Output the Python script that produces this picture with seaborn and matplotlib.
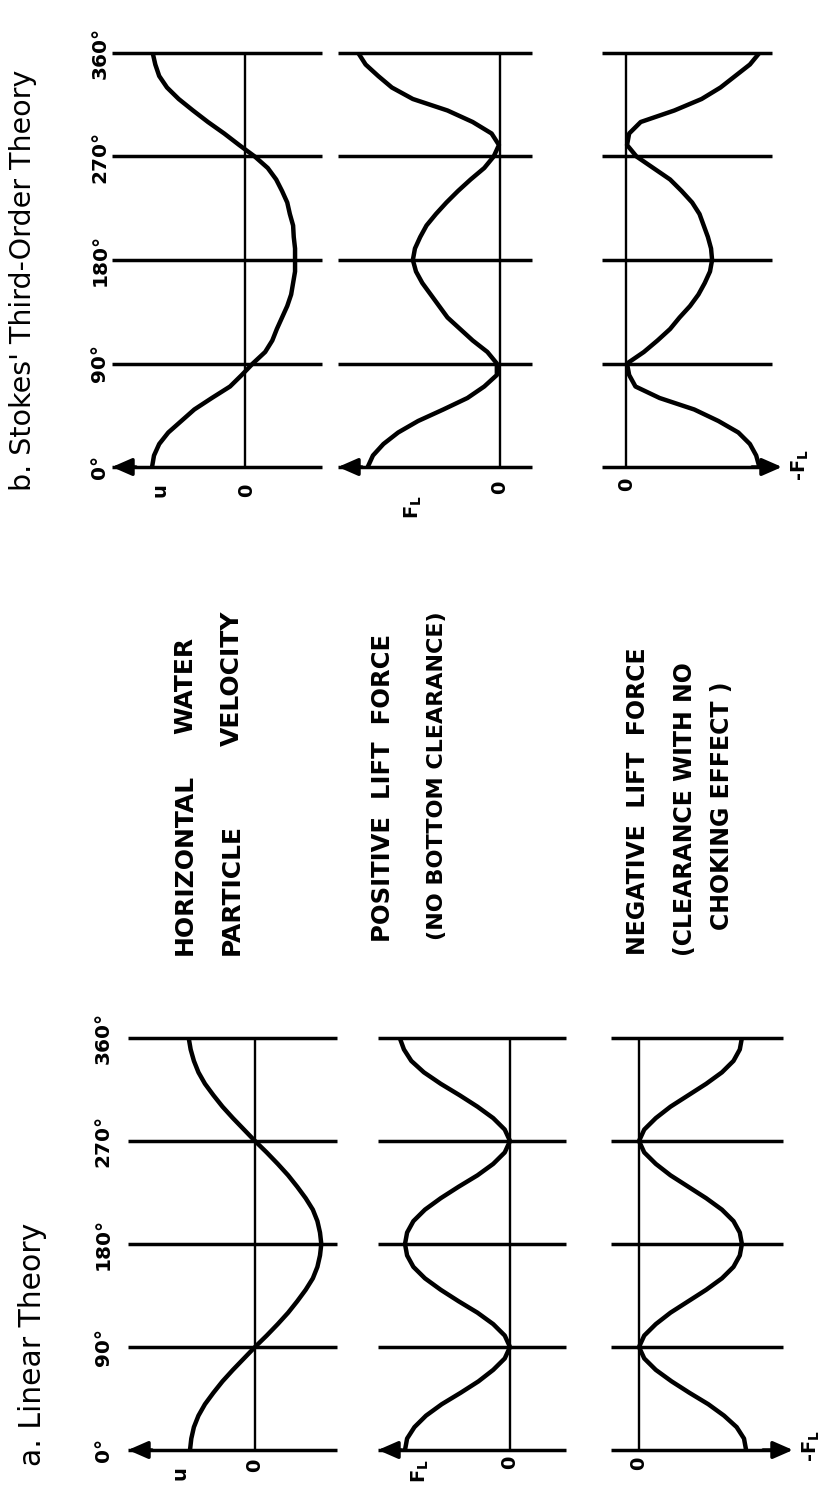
import matplotlib
matplotlib.use("Agg")
import matplotlib.pyplot as plt
from matplotlib.transforms import offset_copy
import seaborn as sns

sns.set_style("white")
plt.rcParams["font.family"] = ["DejaVu Sans"]
plt.rcParams["text.color"] = "black"
plt.rcParams["ytick.color"] = "black"
plt.rcParams["ytick.labelcolor"] = "black"

# phase angle (degrees) along the wave period
phase_deg = [0, 10, 20, 30, 40, 50, 60, 70, 80, 90,
             100, 110, 120, 130, 140, 150, 160, 170, 180,
             190, 200, 210, 220, 230, 240, 250, 260, 270,
             280, 290, 300, 310, 320, 330, 340, 350, 360]
tick_deg = [0, 90, 180, 270, 360]
tick_labels = ["0°", "90°", "180°", "270°", "360°"]

# a. Linear theory (u in units of the linear amplitude, lift in units of linear peak)
linear_u = [1.00, 0.98, 0.94, 0.87, 0.77, 0.64, 0.50, 0.34, 0.17, 0.00,
            -0.18, -0.35, -0.51, -0.65, -0.78, -0.89, -0.96, -1.00, -1.02,
            -1.00, -0.96, -0.89, -0.78, -0.65, -0.51, -0.35, -0.18, 0.00,
            0.17, 0.34, 0.50, 0.64, 0.77, 0.87, 0.94, 0.99, 1.02]
linear_lift = [1.00, 0.98, 0.91, 0.80, 0.65, 0.47, 0.30, 0.16, 0.05, 0.00,
               0.05, 0.16, 0.31, 0.49, 0.66, 0.81, 0.92, 0.98, 1.00,
               0.98, 0.92, 0.81, 0.66, 0.49, 0.31, 0.16, 0.05, 0.00,
               0.05, 0.16, 0.31, 0.48, 0.66, 0.82, 0.94, 1.01, 1.05]
linear_neg_lift = [1.02, 1.00, 0.93, 0.81, 0.66, 0.48, 0.31, 0.16, 0.05, 0.00,
                   0.05, 0.16, 0.30, 0.47, 0.64, 0.79, 0.90, 0.96, 0.98,
                   0.96, 0.90, 0.79, 0.64, 0.47, 0.30, 0.16, 0.05, 0.00,
                   0.05, 0.16, 0.30, 0.47, 0.64, 0.79, 0.90, 0.96, 0.98]

# b. Stokes' third-order theory (same units)
stokes_u = [1.43, 1.40, 1.32, 1.18, 0.98, 0.78, 0.51, 0.23, 0.05, -0.12,
            -0.31, -0.42, -0.49, -0.57, -0.65, -0.71, -0.74, -0.77, -0.77,
            -0.77, -0.75, -0.74, -0.69, -0.65, -0.57, -0.48, -0.35, -0.15,
            0.09, 0.32, 0.57, 0.80, 1.02, 1.20, 1.32, 1.38, 1.42]
stokes_lift = [1.26, 1.21, 1.11, 0.97, 0.78, 0.54, 0.31, 0.15, 0.03, 0.03,
               0.12, 0.26, 0.38, 0.50, 0.58, 0.66, 0.74, 0.80, 0.83,
               0.81, 0.76, 0.70, 0.61, 0.51, 0.40, 0.28, 0.15, 0.06,
               0.01, 0.08, 0.26, 0.50, 0.83, 1.03, 1.16, 1.28, 1.35]
stokes_neg_lift = [1.27, 1.24, 1.18, 1.07, 0.88, 0.65, 0.32, 0.09, 0.03, 0.01,
                   0.17, 0.30, 0.42, 0.51, 0.61, 0.69, 0.75, 0.80, 0.82,
                   0.81, 0.78, 0.74, 0.70, 0.63, 0.53, 0.42, 0.26, 0.10,
                   0.01, 0.03, 0.14, 0.46, 0.72, 0.90, 1.04, 1.18, 1.27]

# layout, in pixels of the final (rotated) page
W, H = 836, 1493
U_PX, LIFT_PX = 65, 105

fig = plt.figure(figsize=(W / 100, H / 100), dpi=100)
fig.patch.set_facecolor("white")


def panel(values, x0, x1, zero, y_top, y_bot, scale, flip, arrow_right=False,
          labels=False, pad=4):
    ax = fig.add_axes([x0 / W, 1 - y_bot / H, (x1 - x0) / W, (y_bot - y_top) / H])
    ax.set_facecolor("none")
    for t in tick_deg:
        ax.axhline(t, color="black", lw=2.5, clip_on=False, solid_capstyle="butt")
    ax.axvline(0, color="black", lw=1.7)
    sns.lineplot(x=values, y=phase_deg, sort=False, estimator=None, color="black",
                 lw=3.2, ax=ax, solid_capstyle="round", solid_joinstyle="round")
    if flip:
        ax.set_xlim((zero - x0) / scale, (zero - x1) / scale)
    else:
        ax.set_xlim((x0 - zero) / scale, (x1 - zero) / scale)
    ax.set_ylim(0, 360)
    ax.set_xticks([])
    if labels:
        ax.set_yticks(tick_deg, tick_labels, rotation=90, va="center",
                      fontsize=14.5, fontweight="bold", color="black")
        ax.tick_params(axis="y", length=0, pad=pad)
    else:
        ax.set_yticks([])
    ax.set_xlabel("")
    ax.set_ylabel("")
    sns.despine(ax=ax, left=True, bottom=True)
    head = dict(arrowstyle="-|>,head_length=0.8,head_width=0.35", mutation_scale=15,
                color="black", lw=2.5, shrinkA=0, shrinkB=0)
    if arrow_right:
        tip = offset_copy(ax.transAxes, fig=fig, x=10, y=0, units="dots")
        ax.annotate("", xy=(1, 0), xycoords=tip, xytext=(-30, 0),
                    textcoords="offset pixels", arrowprops=head)
    else:
        ax.annotate("", xy=(0, 0), xycoords="axes fraction", xytext=(24, 0),
                    textcoords="offset pixels", arrowprops=head)
    return ax


# b. Stokes' third-order theory (top of page)
panel(stokes_u, 112, 322, 245, 53, 467, U_PX, True, labels=True, pad=2)
panel(stokes_lift, 338, 532, 500, 53, 467, LIFT_PX, True)
panel(stokes_neg_lift, 602, 772, 626, 53, 467, LIFT_PX, False, arrow_right=True)

# a. Linear theory (bottom of page)
panel(linear_u, 128, 337, 255, 1038, 1450, U_PX, True, labels=True, pad=11)
panel(linear_lift, 378, 566, 510, 1038, 1450, LIFT_PX, True)
panel(linear_neg_lift, 611, 783, 639, 1038, 1450, LIFT_PX, False, arrow_right=True)


def label(x, y, s, size=14, weight="bold", va="center"):
    fig.text(x / W, 1 - y / H, s, rotation=90, ha="center", va=va,
             fontsize=size, fontweight=weight, color="black")


label(23, 280, "b. Stokes' Third-Order Theory", size=20.5, weight="normal")
label(33, 1344, "a. Linear Theory", size=21.5, weight="normal")

# axis names below the 0° lines
label(160, 490, "u")
label(247, 490, "0")
label(413, 507, r"F$_\mathregular{L}$")
label(500, 487, "0")
label(627, 484, "0")
label(800, 465, r"-F$_\mathregular{L}$")
label(180, 1473, "u")
label(255, 1465, "0")
label(420, 1471, r"F$_\mathregular{L}$")
label(510, 1462, "0")
label(639, 1463, "0")
label(811, 1446, r"-F$_\mathregular{L}$")

# row captions in the middle
label(185, 955, "HORIZONTAL", size=18, va="bottom")
label(185, 637, "WATER", size=18, va="top")
label(232, 955, "PARTICLE", size=18, va="bottom")
label(232, 610, "VELOCITY", size=18, va="top")
label(383, 942, "POSITIVE  LIFT  FORCE", size=17.5, va="bottom")
label(437, 940, "(NO BOTTOM CLEARANCE)", size=16, va="bottom")
label(638, 801, "NEGATIVE  LIFT  FORCE", size=17)
label(685, 809, "(CLEARANCE WITH NO", size=17)
label(722, 806, "CHOKING EFFECT )", size=17)

fig.savefig("out.png", dpi=100, facecolor="white")
